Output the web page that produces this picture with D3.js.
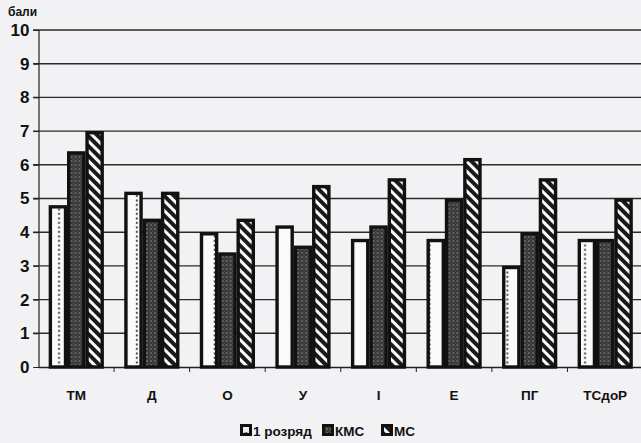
<!DOCTYPE html>
<html lang="uk">
<head>
  <meta charset="UTF-8" />
  <title>Бали за розрядами</title>
  <script src="https://d3js.org/d3.v7.min.js"></script>
  <style>
    body { margin: 0; background: #f2f2f4; font-family: "Liberation Sans", Arial, sans-serif; }
    svg { display: block; }
  </style>
</head>
<body>
  <div id="chart"></div>
  <script>
    const categories = ["ТМ", "Д", "О", "У", "І", "Е", "ПГ", "ТСдоР"];
    const seriesNames = ["1 розряд", "КМС", "МС"];
    const rozryad = [4.8, 5.2, 4.0, 4.2, 3.8, 3.8, 3.0, 3.8];
    const kms     = [6.4, 4.4, 3.4, 3.6, 4.2, 5.0, 4.0, 3.8];
    const ms      = [7.0, 5.2, 4.4, 5.4, 5.6, 6.2, 5.6, 5.0];
    const yTicks  = [0, 1, 2, 3, 4, 5, 6, 7, 8, 9, 10];

    const W = 641, H = 443;
    const svg = d3.select("#chart").append("svg").attr("width", W).attr("height", H);
    const defs = svg.append("defs");

    // dark speckled fill (КМС)
    const speck = defs.append("pattern").attr("id", "speck")
      .attr("patternUnits", "userSpaceOnUse").attr("width", 4).attr("height", 4);
    speck.append("rect").attr("width", 4).attr("height", 4).attr("fill", "#363636");
    speck.append("circle").attr("cx", 1).attr("cy", 1).attr("r", 0.8).attr("fill", "#9a9a9a");
    speck.append("circle").attr("cx", 3).attr("cy", 3).attr("r", 0.6).attr("fill", "#6e6e6e");

    // diagonal stripes (МС)
    const stripe = defs.append("pattern").attr("id", "stripe")
      .attr("patternUnits", "userSpaceOnUse").attr("width", 7).attr("height", 7)
      .attr("patternTransform", "rotate(-45)");
    stripe.append("rect").attr("width", 7).attr("height", 7).attr("fill", "#fafafa");
    stripe.append("rect").attr("width", 4).attr("height", 7).attr("fill", "#1a1a1a");

    const y = d3.scaleLinear().domain([0, 10]).range([367, 30]);
    const x0 = d3.scaleBand().domain(categories).range([38.5, 643]).padding(0);
    const x1 = d3.scaleBand().domain(seriesNames).range([0, x0.bandwidth()])
      .paddingInner(0).paddingOuter(0.56);

    // gridlines
    svg.append("g").selectAll("line").data(yTicks.filter(d => d > 0)).join("line")
      .attr("x1", 33).attr("x2", W)
      .attr("y1", d => y(d)).attr("y2", d => y(d))
      .attr("stroke", "#2a2a2a").attr("stroke-width", 1.4);

    // y axis
    const yAxis = svg.append("g").attr("transform", "translate(38.5,0)")
      .call(d3.axisLeft(y).tickValues(yTicks).tickSize(5).tickFormat(d3.format("d")));
    yAxis.select(".domain").attr("stroke", "#222").attr("stroke-width", 1.2);
    yAxis.selectAll(".tick line").attr("stroke", "#222");
    yAxis.selectAll("text").attr("x", -9).attr("font-size", 17).attr("font-weight", "bold")
      .attr("fill", "#111").attr("font-family", "Liberation Sans, Arial, sans-serif");

    svg.append("text").attr("x", 8).attr("y", 16).text("бали")
      .attr("font-size", 12).attr("font-weight", "bold").attr("fill", "#111");

    // x axis
    const xAxis = svg.append("g").attr("transform", "translate(0,367)")
      .call(d3.axisBottom(x0).tickSize(0).tickPadding(23));
    xAxis.select(".domain").attr("stroke", "#222").attr("stroke-width", 1.4);
    xAxis.selectAll("text").attr("font-size", 13.5).attr("font-weight", "bold")
      .attr("fill", "#111").attr("font-family", "Liberation Sans, Arial, sans-serif");
    // boundary ticks between groups
    svg.append("g").selectAll("line").data(categories.slice(1)).join("line")
      .attr("x1", d => x0(d)).attr("x2", d => x0(d))
      .attr("y1", 367).attr("y2", 372).attr("stroke", "#222");

    // dotted fill patterns per bar for 1 розряд (one column of dots)
    categories.forEach((c, i) => {
      const bx = x0(c) + x1(seriesNames[0]);
      const p = defs.append("pattern").attr("id", "dots" + i)
        .attr("patternUnits", "userSpaceOnUse")
        .attr("x", bx).attr("y", 0)
        .attr("width", x1.bandwidth()).attr("height", 4.5);
      p.append("rect").attr("width", x1.bandwidth()).attr("height", 4.5).attr("fill", "#fafafa");
      p.append("rect").attr("x", x1.bandwidth() / 2 - 1.6).attr("y", 1.5)
        .attr("width", 1.8).attr("height", 1.8).attr("fill", "#222");
    });

    const data = categories.map((c, i) => ({ cat: c, i, vals: [rozryad[i], kms[i], ms[i]] }));
    const fills = [i => `url(#dots${i})`, () => "url(#speck)", () => "url(#stripe)"];

    const groups = svg.append("g").selectAll("g").data(data).join("g")
      .attr("transform", d => `translate(${x0(d.cat)},0)`);
    groups.selectAll("rect")
      .data(d => d.vals.map((v, k) => ({ v, k, i: d.i })))
      .join("rect")
      .attr("x", d => x1(seriesNames[d.k]) + 1.6)
      .attr("width", x1.bandwidth() - 3.2)
      .attr("y", d => y(d.v) + 1.6)
      .attr("height", d => y(0) - y(d.v) - 1.6)
      .attr("fill", d => fills[d.k](d.i))
      .attr("stroke", "#111").attr("stroke-width", 3.4);

    // legend
    const ld = defs.append("pattern").attr("id", "legdots")
      .attr("patternUnits", "userSpaceOnUse").attr("x", 241).attr("y", 425)
      .attr("width", 10).attr("height", 10);
    ld.append("rect").attr("width", 10).attr("height", 10).attr("fill", "#eee");
    ld.append("rect").attr("x", 3.5).attr("y", 3.5).attr("width", 3).attr("height", 3).attr("fill", "#111");
    const legendFills = ["url(#legdots)", "url(#speck)", "url(#stripe)"];

    const legendX = d3.scaleOrdinal().domain(seriesNames).range([240, 322, 381]);
    const leg = svg.append("g").selectAll("g").data(seriesNames).join("g")
      .attr("transform", d => `translate(${legendX(d)},424)`);
    leg.append("rect").attr("x", 1.5).attr("y", 1.5).attr("width", 9).attr("height", 9)
      .attr("fill", (d, k) => legendFills[k]).attr("stroke", "#111").attr("stroke-width", 3);
    leg.append("text").attr("x", 13).attr("y", 11.5).text(d => d)
      .attr("font-size", 13.5).attr("font-weight", "bold").attr("fill", "#111");
  </script>
</body>
</html>
